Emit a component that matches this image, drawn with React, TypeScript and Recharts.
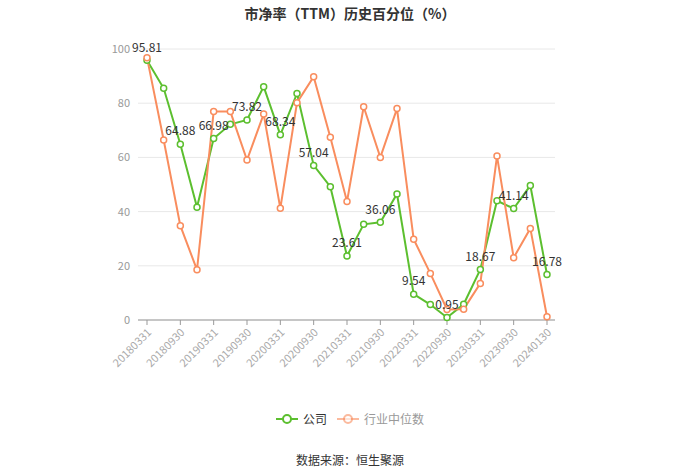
import React from "react";
import {
  CartesianGrid,
  Line,
  LineChart,
  XAxis,
  YAxis,
} from "recharts";

const dates = [
  "20180331", "20180630", "20180930", "20181231",
  "20190331", "20190630", "20190930", "20191231",
  "20200331", "20200630", "20200930", "20201231",
  "20210331", "20210630", "20210930", "20211231",
  "20220331", "20220630", "20220930", "20221231",
  "20230331", "20230630", "20230930", "20231231",
  "20240130",
];

const company = [
  95.81, 85.5, 64.88, 41.6, 66.98, 72.2, 73.82, 86.1, 68.34, 83.6, 57.04, 49.2,
  23.61, 35.3, 36.06, 46.5, 9.54, 5.7, 0.95, 5.8, 18.67, 44.0, 41.14, 49.6, 16.78,
];

const industry = [
  96.8, 66.4, 34.8, 18.5, 76.9, 76.9, 59.0, 76.0, 41.2, 80.2, 89.8, 67.4,
  43.7, 78.7, 60.0, 78.0, 29.8, 17.2, 3.9, 4.0, 13.5, 60.5, 23.0, 33.8, 1.2,
];

const yTicks = [0, 20, 40, 60, 80, 100];

const GREEN = "#5cbf2f";
const ORANGE = "#f98d5e";
const FONT = "'Microsoft YaHei', 'Noto Sans CJK SC', sans-serif";

const data = dates.map((d, i) => ({ date: d, company: company[i], industry: industry[i] }));

// only every other point on the company line carries a label
function ValueLabel(props: any) {
  const { x, y, index, value } = props;
  if (index % 2 !== 0) return null;
  return (
    <text
      x={x}
      y={y - 12}
      textAnchor="middle"
      dominantBaseline="middle"
      fontSize={12}
      fill="#333"
      fontFamily={FONT}
    >
      {value.toFixed(2)}
    </text>
  );
}

function DateTick(props: any) {
  const { x, y, payload } = props;
  return (
    <text
      x={x + 3}
      y={y + 4}
      textAnchor="end"
      dominantBaseline="middle"
      fontSize={11}
      fill="#aaa"
      fontFamily={FONT}
      transform={`rotate(-45, ${x + 3}, ${y + 4})`}
    >
      {payload.value}
    </text>
  );
}

function LegendBox() {
  const items = [
    { name: "公司", color: GREEN, text: "#333", op: 1 },
    { name: "行业中位数", color: ORANGE, text: "#999", op: 0.6 },
  ];
  return (
    <div
      style={{
        position: "absolute",
        top: 410,
        width: 700,
        display: "flex",
        justifyContent: "center",
        gap: 10,
        fontSize: 12,
      }}
    >
      {items.map((it) => (
        <div key={it.name} style={{ display: "flex", alignItems: "center", gap: 5 }}>
          <svg width={22} height={12}>
            <line x1={0} y1={6} x2={22} y2={6} stroke={it.color} strokeWidth={2} opacity={it.op} />
            <circle cx={11} cy={6} r={4} fill="#fff" stroke={it.color} strokeWidth={2} opacity={it.op} />
          </svg>
          <span style={{ color: it.text }}>{it.name}</span>
        </div>
      ))}
    </div>
  );
}

export default function App() {
  return (
    <div style={{ position: "absolute", left: 0, top: 0, width: 700, height: 473, background: "#fff", fontFamily: FONT }}>
      <div
        style={{
          position: "absolute",
          top: 3,
          width: 700,
          textAlign: "center",
          fontSize: 14,
          fontWeight: "bold",
          color: "#333",
        }}
      >
        市净率（TTM）历史百分位（%）
      </div>
      <LineChart
        width={700}
        height={473}
        data={data}
        margin={{ top: 49, right: 145, bottom: 103, left: 108 }}
      >
        <CartesianGrid stroke="#e8e8e8" vertical={false} />
        <XAxis
          dataKey="date"
          interval={1}
          padding={{ left: 9, right: 8 }}
          axisLine={{ stroke: "#999" }}
          tickLine={{ stroke: "#999" }}
          tickSize={5}
          tick={<DateTick />}
          height={50}
        />
        <YAxis
          domain={[0, 100]}
          ticks={yTicks}
          axisLine={false}
          tickLine={false}
          width={30}
          tick={{ fill: "#999", fontSize: 11, fontFamily: FONT }}
        />
        <Line
          dataKey="company"
          name="公司"
          stroke={GREEN}
          strokeWidth={2}
          dot={{ r: 3, fill: "#fff", stroke: GREEN, strokeWidth: 1.5 }}
          activeDot={false}
          label={<ValueLabel />}
          isAnimationActive={false}
        />
        <Line
          dataKey="industry"
          name="行业中位数"
          stroke={ORANGE}
          strokeWidth={2}
          dot={{ r: 3, fill: "#fff", stroke: ORANGE, strokeWidth: 1.5 }}
          activeDot={false}
          isAnimationActive={false}
        />
      </LineChart>
      <LegendBox />
      <div
        style={{
          position: "absolute",
          top: 451,
          width: 700,
          textAlign: "center",
          fontSize: 12,
          color: "#333",
        }}
      >
        数据来源：恒生聚源
      </div>
    </div>
  );
}
